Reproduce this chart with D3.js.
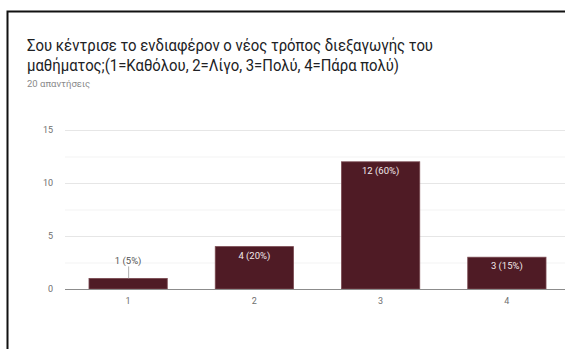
<!DOCTYPE html>
<html>
<head>
<meta charset="utf-8">
<script src="https://cdn.jsdelivr.net/npm/d3@7"></script>
<style>
  html, body { margin: 0; padding: 0; background: #fff; }
  svg { display: block; font-family: Roboto, "Noto Sans", Arial, sans-serif; }
</style>
</head>
<body>
<svg id="chart" width="565" height="349"></svg>
<script>
// Survey answers: how much the new teaching approach drew interest
const categories = ["1", "2", "3", "4"];
const counts = [1, 4, 12, 3];
const percents = ["5%", "20%", "60%", "15%"];
const yTicks = [0, 5, 10, 15];
const titleLines = [
  "Σου κέντρισε το ενδιαφέρον ο νέος τρόπος διεξαγωγής του",
  "μαθήματος;(1=Καθόλου, 2=Λίγο, 3=Πολύ, 4=Πάρα πολύ)"
];
const titleWidths = [406, 372];
const responses = "20 απαντήσεις";

const svg = d3.select("#chart");
const barColor = "#4f1b25";

// card frame
svg.append("path")
  .attr("d", "M7.5,349 L7.5,11.5 L565,11.5")
  .attr("fill", "none")
  .attr("stroke", "#111")
  .attr("stroke-width", 2);

// heading
svg.selectAll("text.title")
  .data(titleLines)
  .join("text")
  .attr("class", "title")
  .attr("x", 27)
  .attr("y", (d, i) => 51 + i * 20)
  .attr("font-size", 15.6)
  .attr("fill", "#202124")
  .attr("textLength", (d, i) => titleWidths[i])
  .attr("lengthAdjust", "spacingAndGlyphs")
  .text(d => d);

svg.append("text")
  .attr("x", 27)
  .attr("y", 87)
  .attr("font-size", 9.5)
  .attr("fill", "#8a8a8a")
  .text(responses);

const x = d3.scaleBand()
  .domain(categories)
  .range([65, 570])
  .paddingInner(0.38)
  .paddingOuter(0.19);

const y = d3.scaleLinear()
  .domain([0, 15])
  .range([289, 130]);

// gridlines (major and half-step minor)
const grid = svg.append("g");
grid.selectAll("line.minor")
  .data(d3.range(2.5, 15, 5))
  .join("line")
  .attr("x1", 65).attr("x2", 565)
  .attr("y1", d => y(d) + 0.5).attr("y2", d => y(d) + 0.5)
  .attr("stroke", "#f3f3f3");
grid.selectAll("line.major")
  .data(yTicks.filter(d => d > 0))
  .join("line")
  .attr("x1", 65).attr("x2", 565)
  .attr("y1", d => y(d) + 0.5).attr("y2", d => y(d) + 0.5)
  .attr("stroke", "#e6e6e6");

// y axis labels
const yAxis = d3.axisLeft(y).tickValues(yTicks).tickSize(0).tickPadding(0);
svg.append("g")
  .attr("transform", "translate(53,0)")
  .call(yAxis)
  .call(g => g.select(".domain").remove())
  .call(g => g.selectAll("text")
    .attr("font-size", 9)
    .attr("fill", "#6f6f6f")
    .attr("font-family", "Roboto, Arial, sans-serif"));

// bars
svg.selectAll("rect.bar")
  .data(counts)
  .join("rect")
  .attr("class", "bar")
  .attr("x", (d, i) => x(categories[i]))
  .attr("width", x.bandwidth())
  .attr("y", d => y(d))
  .attr("height", d => y(0) - y(d))
  .attr("fill", barColor)
  .attr("stroke", "#7a4a52")
  .attr("stroke-width", 0.8);

// baseline
svg.append("line")
  .attr("x1", 65).attr("x2", 565)
  .attr("y1", y(0) + 0.5).attr("y2", y(0) + 0.5)
  .attr("stroke", "#8c8c8c")
  .attr("stroke-width", 1.2);

// x axis labels
const xAxis = d3.axisBottom(x).tickSize(0).tickPadding(0);
svg.append("g")
  .attr("transform", `translate(0,${y(0) + 9})`)
  .call(xAxis)
  .call(g => g.select(".domain").remove())
  .call(g => g.selectAll("text")
    .attr("font-size", 9)
    .attr("fill", "#6f6f6f")
    .attr("font-family", "Roboto, Arial, sans-serif"));

// value labels: inside tall bars, above short ones with a leader line
const labels = svg.append("g");
counts.forEach((v, i) => {
  const cx = x(categories[i]) + x.bandwidth() / 2;
  const txt = `${v} (${percents[i]})`;
  const inside = (y(0) - y(v)) > 20;
  if (inside) {
    labels.append("text")
      .attr("x", cx)
      .attr("y", y(v) + 12)
      .attr("text-anchor", "middle")
      .attr("font-size", 9.5)
      .attr("fill", "#f1e9ea")
      .text(txt);
  } else {
    labels.append("line")
      .attr("x1", cx + 0.5).attr("x2", cx + 0.5)
      .attr("y1", y(v) - 12).attr("y2", y(v))
      .attr("stroke", "#9a9a9a")
      .attr("stroke-width", 0.8);
    labels.append("text")
      .attr("x", cx)
      .attr("y", y(v) - 14)
      .attr("text-anchor", "middle")
      .attr("font-size", 9.5)
      .attr("fill", "#555")
      .text(txt);
  }
});
</script>
</body>
</html>
